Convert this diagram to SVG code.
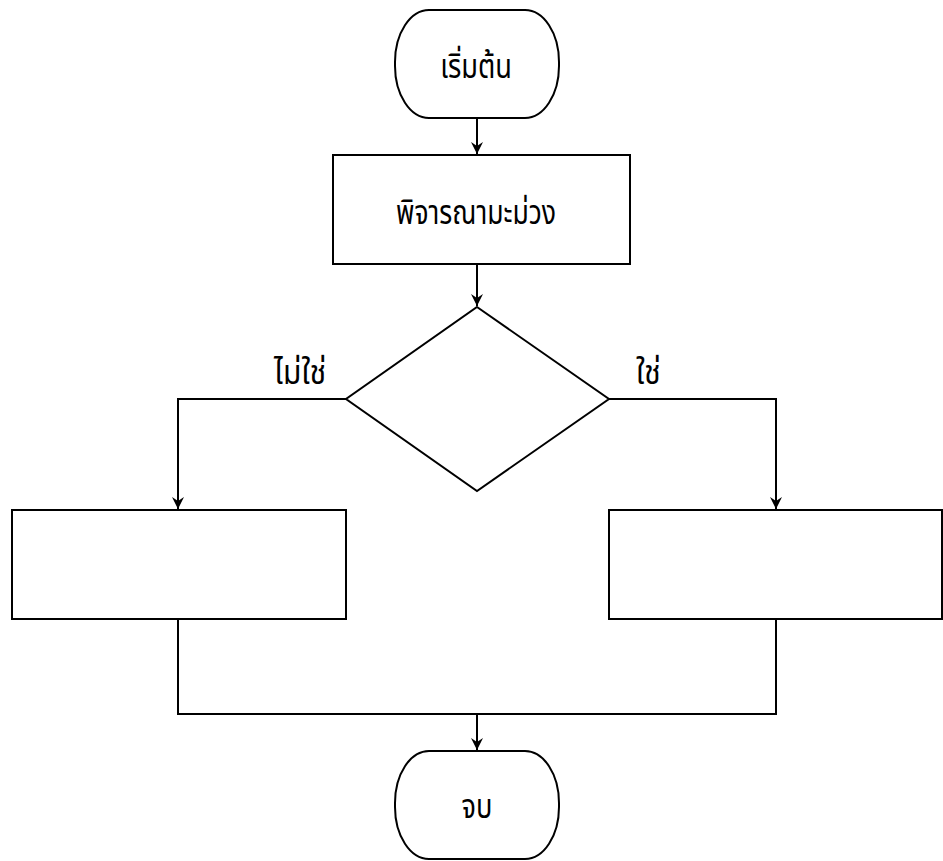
<svg xmlns="http://www.w3.org/2000/svg" width="943" height="861" viewBox="0 0 943 861">
<style>
.s{fill:#fff;stroke:#000;stroke-width:2}
.c{fill:none;stroke:#000;stroke-width:2}
text{font-family:"Noto Sans Thai","Noto Sans","DejaVu Sans",sans-serif;font-size:34px;fill:#000}
.m{text-anchor:middle}
</style>
<defs>
<marker id="a" viewBox="0 0 12 12" refX="12" refY="6" markerWidth="12" markerHeight="12" markerUnits="userSpaceOnUse" orient="auto">
<path d="M0,0 L12,6 L0,12 L4,6 Z" fill="#000"/>
</marker>
</defs>
<rect width="943" height="861" fill="#fff"/>
<g id="connectors">
<path class="c" d="M477,118 V154" marker-end="url(#a)"/>
<path class="c" d="M477,264 V306" marker-end="url(#a)"/>
<path class="c" d="M346,399 H178 V509" marker-end="url(#a)"/>
<path class="c" d="M609,399 H776 V509" marker-end="url(#a)"/>
<path class="c" d="M178,619 V714 H776 V619"/>
<path class="c" d="M477,714 V750" marker-end="url(#a)"/>
</g>
<g id="start">
<rect class="s" x="395" y="10" width="164" height="108" rx="34" ry="52"/>
<text class="m" transform="translate(476,78) scale(0.8,1)">เริ่มต้น</text>
</g>
<g id="consider">
<rect class="s" x="333" y="155" width="297" height="109"/>
<text class="m" transform="translate(476,224) scale(0.78,1)">พิจารณามะม่วง</text>
</g>
<g id="decision">
<polygon class="s" points="477,307 609,399 477,491 346,399"/>
</g>
<g id="label-no"><text transform="translate(274,384) scale(0.88,1)">ไม่ใช่</text></g>
<g id="label-yes"><text transform="translate(636,384) scale(0.88,1)">ใช่</text></g>
<g id="left-box"><rect class="s" x="12" y="510" width="334" height="109"/></g>
<g id="right-box"><rect class="s" x="609" y="510" width="333" height="109"/></g>
<g id="end">
<rect class="s" x="395" y="751" width="164" height="108" rx="34" ry="52"/>
<text class="m" transform="translate(477,818) scale(0.8,1)">จบ</text>
</g>
</svg>
